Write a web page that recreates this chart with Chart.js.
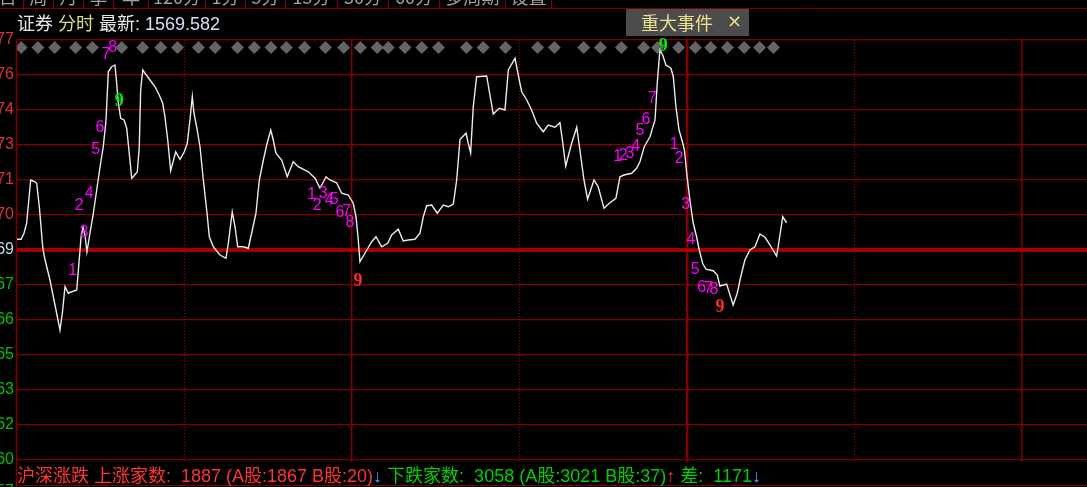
<!DOCTYPE html>
<html><head><meta charset="utf-8">
<script src="https://cdn.jsdelivr.net/npm/chart.js@4.4.1/dist/chart.umd.min.js"></script>
<style>html,body{margin:0;padding:0;background:#000;overflow:hidden}canvas{display:block}</style>
</head><body>
<canvas id="c" width="1087" height="487"></canvas>
<script>
// ---- data (minutes since first open, 240 per session day) ----
const minutes = [0,2.9,5.0,6.9,9.8,12.9,14.1,16.0,18.4,19.6,23.6,26.0,28.4,30.8,32.5,34.4,36.8,39.2,42.8,45.9,47.3,48.7,50.1,52.3,54.7,57.1,59.5,61.8,63.8,65.4,67.8,70.2,71.4,72.6,74.3,76.7,78.6,79.7,82.2,83.3,86.2,87.6,88.6,90.1,91.7,95.3,98.9,101.9,104.4,106.0,108.0,110.1,113.7,116.8,119.9,122.0,123.9,125.6,126.8,128.7,131.1,133.5,135.9,137.8,140.6,145.4,149.7,151.4,154.2,156.2,158.1,162.1,165.7,168.1,171.2,173.6,176.5,178.9,181.8,183.6,185.5,189.6,193.6,197.9,201.5,208.7,213.5,217.1,221.4,224.2,229.0,232.6,237.3,240.9,242.9,244.5,245.7,249.3,254.1,257.2,261.3,265.6,268.4,273.2,276.7,280.3,285.1,288.7,291.1,293.5,297.1,301.1,305.4,309.0,312.6,315.0,317.4,321.7,323.3,325.0,326.9,329.3,336.5,341.2,345.5,349.6,352.0,356.8,360.3,361.6,365.2,368.7,372.3,377.0,380.6,385.4,389.0,390.9,393.1,397.4,401.0,403.3,406.2,408.8,413.4,416.4,420.5,424.8,429.1,432.0,434.8,440.4,443.9,446.3,449.4,453.5,457.1,458.7,460.6,462.6,464.9,468.5,470.2,472.1,474.3,476.4,478.2,479.8,482.1,484.5,486.9,488.8,491.2,493.6,498.8,501.7,503.6,508.4,513.1,516.0,518.5,521.5,525.1,528.7,532.3,535.9,539.5,544.2,546.1,548.6,551.4];
const prices = [1569.43,1569.43,1569.67,1570.07,1571.80,1571.73,1571.67,1570.73,1569.13,1568.73,1567.80,1567.13,1566.47,1565.80,1566.48,1567.53,1567.27,1567.33,1567.40,1569.52,1569.92,1569.60,1568.92,1569.68,1570.47,1571.40,1572.33,1573.13,1574.20,1576.13,1576.33,1576.40,1575.67,1574.87,1574.27,1574.20,1573.87,1573.27,1571.87,1571.93,1572.13,1573.13,1575.40,1576.20,1576.07,1575.80,1575.53,1575.20,1574.87,1574.33,1573.40,1572.17,1572.93,1572.63,1572.93,1573.27,1574.20,1575.13,1574.47,1573.93,1573.13,1571.80,1570.60,1569.53,1569.13,1568.80,1568.67,1569.27,1570.53,1569.93,1569.13,1569.13,1569.07,1569.67,1570.47,1571.80,1572.60,1573.20,1573.80,1573.40,1572.87,1572.60,1571.93,1572.53,1572.33,1572.13,1571.87,1571.47,1571.93,1571.80,1571.69,1571.27,1571.20,1570.87,1570.33,1569.40,1568.53,1568.87,1569.33,1569.53,1569.13,1569.27,1569.60,1569.83,1569.36,1569.40,1569.43,1569.67,1570.33,1570.77,1570.80,1570.47,1570.80,1570.73,1570.84,1571.80,1573.43,1573.67,1573.27,1572.89,1574.73,1575.93,1575.96,1574.44,1574.67,1574.60,1576.20,1576.67,1575.67,1575.33,1575.00,1574.60,1574.07,1573.73,1574.00,1573.91,1574.09,1573.33,1572.36,1573.27,1573.91,1573.00,1571.80,1571.03,1571.80,1571.53,1570.67,1570.89,1571.07,1571.93,1572.00,1572.07,1572.27,1572.53,1573.13,1573.53,1574.20,1575.67,1577.00,1576.80,1576.40,1576.27,1575.93,1574.73,1573.80,1573.40,1573.00,1572.07,1571.00,1570.07,1569.53,1569.00,1568.47,1568.23,1568.17,1568.00,1567.56,1567.64,1566.80,1567.27,1567.93,1568.60,1569.00,1569.13,1569.64,1569.51,1569.20,1568.76,1569.40,1570.33,1570.09];

// TD sequential count labels
const tdMinutes = [39.9,44.6,48.0,51.8,56.4,59.5,63.8,68.6,73.3, 211.1,215.1,219.4,223.7,227.3,231.4,236.2,238.6,244.3, 430.3,434.4,439.2,443.2,446.3,450.6,455.1,463.0, 470.9,474.5,479.1,482.9,485.9,490.5,495.3,499.3,503.6];
const tdPrices  = [1568.17,1570.76,1569.69,1571.27,1573.00,1573.91,1576.80,1577.10,1574.93, 1571.20,1570.76,1571.27,1570.97,1571.03,1570.49,1570.53,1570.09,1567.74, 1572.73,1572.76,1572.84,1573.13,1573.77,1574.23,1575.07,1577.13, 1573.23,1572.67,1570.83,1569.43,1568.20,1567.51,1567.47,1567.40,1566.71];
const tdLabels  = ['1','2','3','4','5','6','7','8','9', '1','2','3','4','5','6','7','8','9', '1','2','3','4','5','6','7','9', '1','2','3','4','5','6','7','8','9'];
const tdKinds   = ['n','n','n','n','n','n','n','n','top', 'n','n','n','n','n','n','n','n','bottom', 'n','n','n','n','n','n','n','top', 'n','n','n','n','n','n','n','n','bottom'];

// major-event markers
const eventMinutes = [3,15,27,42,54,75,90,103,115,130,142,158,170,182,193,206,221,234,246,258,266,278,290,302,322,334,350,373,385,406,418,433,449,459,474,486,497,509,521,532,542];
const eventLevel = 1577.1;

// axis
const prevClose = 1569.0;
const gridStep = 1.4;
const yTickLabels = ['1560','1562','1563','1565','1566','1567','1569','1570','1571','1573','1574','1576','1577'];
const dayBreaks = [240,480,720];
const halfDayBreaks = [120,360,600];
const xMax = 766.6;

// header / status
const stockName = '证券', periodName = '分时', latestLabel = '最新', latestValue = '1569.582';
const upCount = 1887, upA = 1867, upB = 20, downCount = 3058, downA = 3021, downB = 37, diffCount = 1171;
const tabNames = ['日','周','月','季','年','120分','1分','5分','15分','30分','60分','多周期','设置'];

const yMax = prevClose + 6*gridStep;
const yMin = prevClose - 6*gridStep - gridStep*2/35;

const chromePlugin = {
  id:'chrome',
  beforeDraw(chart){
    const c = chart.ctx; c.save(); c.fillStyle='#000'; c.fillRect(0,0,chart.width,chart.height); c.restore();
  },
  beforeDatasetsDraw(chart){
    const c = chart.ctx, a = chart.chartArea; c.save();
    c.strokeStyle = '#840000'; c.lineWidth = 1.5;
    c.beginPath(); c.moveTo(a.left-0.5, a.top); c.lineTo(a.left-0.5, chart.height); c.stroke();
    c.lineWidth = 1;
    c.beginPath(); c.moveTo(a.left, chart.height-1.5); c.lineTo(chart.width, chart.height-1.5); c.stroke();
    c.restore();
  },
  afterDatasetsDraw(chart){
    const c = chart.ctx, xs = chart.scales.x, ys = chart.scales.y;
    c.save(); c.textAlign='center'; c.textBaseline='middle';
    for (let i=0;i<tdLabels.length;i++){
      const px = xs.getPixelForValue(tdMinutes[i]), py = ys.getPixelForValue(tdPrices[i]);
      if (tdKinds[i]==='n'){ c.font = '16px "Liberation Sans"'; c.fillStyle='#ff00ff'; }
      else if (tdKinds[i]==='top'){ c.font = 'bold 18px "Liberation Serif"'; c.fillStyle='#00ee00'; }
      else { c.font = 'bold 18px "Liberation Serif"'; c.fillStyle='#ff2a2a'; }
      c.fillText(tdLabels[i], px, py);
    }
    c.restore();
  },
  afterDraw(chart){
    const c = chart.ctx, W = chart.width;
    c.save();
    // tab bar
    const seps = [23.5,53.5,83.5,113.5,148.5,205.5,245.5,285.5,337.5,388.5,439.5,505.5,551.5];
    c.strokeStyle='#840000'; c.lineWidth=1;
    c.beginPath(); c.moveTo(0,8.5); c.lineTo(W,8.5); c.stroke();
    seps.forEach(x=>{c.beginPath(); c.moveTo(x,0); c.lineTo(x,8.5); c.stroke();});
    c.font='18px "Noto Sans CJK SC", "Liberation Sans"'; c.fillStyle='#a0a0a0'; c.textAlign='center'; c.textBaseline='alphabetic';
    tabNames.forEach((t,i)=>{ const l = i===0 ? -8 : seps[i-1]; c.fillText(t,(l+seps[i])/2,4); });
    // header line
    c.textAlign='left';
    const hf = '18px "Liberation Sans", "Noto Sans CJK SC"';
    c.font = hf;
    let x = 17; const by = 30;
    const put = (t,col)=>{ c.fillStyle=col; c.fillText(t,x,by); x += c.measureText(t).width; };
    put(stockName+' ','#e6e6e6'); put(periodName+' ','#e0dc82'); put(latestLabel+': ','#e6e6e6'); put(latestValue,'#d0e0f4');
    // event box
    c.fillStyle='#4c4c4c'; c.fillRect(626,9,123,27);
    c.fillStyle='#eee08a'; c.font = '18px "Noto Sans CJK SC"'; c.textBaseline='middle';
    c.fillText('重大事件',641,23); c.font='18px "DejaVu Sans"'; c.fillText('×',727,22);
    // bottom-left partial tick
    c.textAlign='right'; c.textBaseline='middle'; c.font='16px "Liberation Sans"'; c.fillStyle='#00c000';
    c.fillText('1557',14,492);
    // status bar
    c.textAlign='left'; c.textBaseline='alphabetic'; c.font = hf;
    x = 17; const sy = 482;
    const put2 = (t,col)=>{ c.fillStyle=col; c.fillText(t,x,sy); x += c.measureText(t).width; };
    put2('沪深涨跌 上涨家数:  '+upCount+' (A股:'+upA+' B股:'+upB+')','#ff3434');
    put2('↓','#40a8ff');
    put2(' 下跌家数:  '+downCount+' (A股:'+downA+' B股:'+downB+')','#00d000');
    put2('↑','#ff3434');
    put2(' 差:  '+diffCount,'#00d000');
    put2('↓','#40a8ff');
    c.restore();
  }
};

new Chart(document.getElementById('c'), {
  type:'line',
  data:{ datasets:[
    { label:'price', data: minutes.map((m,i)=>({x:m,y:prices[i]})), borderColor:'#ececec', borderWidth:1.4, pointRadius:0, tension:0, order:0, xAxisID:'x', yAxisID:'y' },
    { label:'events', data: eventMinutes.map(m=>({x:m,y:eventLevel})), showLine:false, pointStyle:'rectRot', pointRadius:6.5, pointBackgroundColor:'#646464', pointBorderWidth:0, borderColor:'#646464', order:1, xAxisID:'x', yAxisID:'y' }
  ]},
  options:{
    responsive:false, devicePixelRatio:1, animation:false,
    layout:{ autoPadding:false, padding:{ top:40, bottom:25, left:0, right:0 } },
    plugins:{ legend:{display:false}, tooltip:{enabled:false} },
    scales:{
      x:{ type:'linear', min:0, max:xMax,
          afterBuildTicks: s=>{ s.ticks = dayBreaks.map(v=>({value:v})); },
          afterFit: s=>{ s.height = 0; },
          ticks:{ display:false },
          grid:{ color:'#860000', lineWidth: ctx => (ctx.tick && ctx.tick.value===480) ? 2.5 : 1.5, drawTicks:false },
          border:{ display:false } },
      x2:{ type:'linear', position:'bottom', min:0, max:xMax,
          afterBuildTicks: s=>{ s.ticks = halfDayBreaks.map(v=>({value:v})); },
          afterFit: s=>{ s.height = 0; },
          ticks:{ display:false },
          grid:{ color:'#b00000', lineWidth:1, drawTicks:false },
          border:{ display:false, dash:[1,2] } },
      y:{ type:'linear', min:yMin, max:yMax,
          afterBuildTicks: s=>{ s.ticks = yTickLabels.map((_,i)=>({value: prevClose + (i-6)*gridStep})); },
          afterFit: s=>{ s.width = 17; },
          grid:{ color: ctx => ctx.index===6 ? '#a40000' : '#840000', lineWidth: ctx => ctx.index===6 ? 4 : 1.2, drawTicks:false },
          border:{ display:false },
          ticks:{ autoSkip:false, padding:3, callback:(v,i)=>yTickLabels[i],
                  color: ctx => ctx.index<6 ? '#00c400' : (ctx.index===6 ? '#c8d8f0' : '#e03232'),
                  font:{ family:'Liberation Sans', size:16 } } }
    }
  },
  plugins:[chromePlugin]
});
</script>
</body></html>
